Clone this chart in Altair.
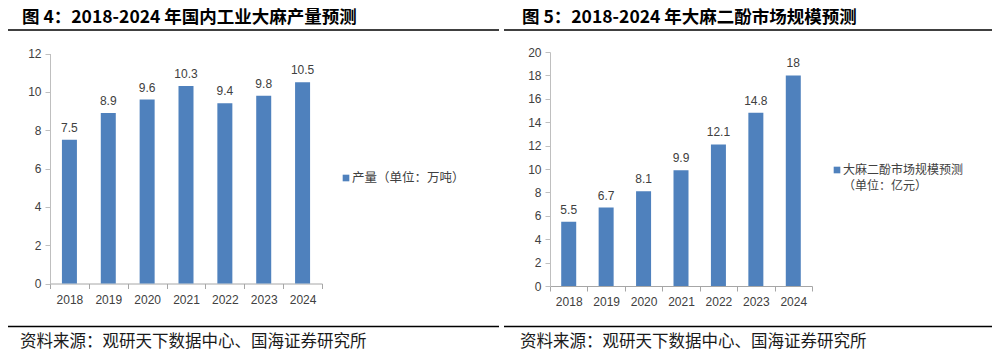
import altair as alt
import pandas as pd

# ---------------- data ----------------
years = ["2018", "2019", "2020", "2021", "2022", "2023", "2024"]
hemp_output = [7.5, 8.9, 9.6, 10.3, 9.4, 9.8, 10.5]      # 万吨
cbd_market = [5.5, 6.7, 8.1, 9.9, 12.1, 14.8, 18]        # 亿元
left_ticks = [0, 2, 4, 6, 8, 10, 12]
right_ticks = [0, 2, 4, 6, 8, 10, 12, 14, 16, 18, 20]

title_left = "图 4：2018-2024 年国内工业大麻产量预测"
title_right = "图 5：2018-2024 年大麻二酚市场规模预测"
legend_left = "产量（单位：万吨）"
legend_right_1 = "大麻二酚市场规模预测"
legend_right_2 = "（单位：亿元）"
source_text = "资料来源：观研天下数据中心、国海证券研究所"

BLUE = "#4F81BD"
W, H = 984, 346
LABEL_FONT = "Liberation Sans"
CJK = "Noto Sans CJK SC"

df_left = pd.DataFrame({"year": years, "value": hemp_output})
df_right = pd.DataFrame({"year": years, "value": cbd_market})


def panel(df, xrange, yrange, ydomain, yvalues, yaxis_x, xaxis_y, xlabelpad):
    base = alt.Chart(df).encode(
        x=alt.X(
            "year:N",
            sort=years,
            scale=alt.Scale(range=xrange, paddingInner=0, paddingOuter=0),
            axis=alt.Axis(
                orient="bottom", offset=-(H - xaxis_y), title=None, labelAngle=0,
                tickBand="extent", tickSize=5, labelPadding=xlabelpad,
                domainColor="#A6A6A6", tickColor="#A6A6A6",
                labelColor="#404040", labelFontSize=12, labelFont=LABEL_FONT,
                grid=False,
            ),
        ),
        y=alt.Y(
            "value:Q",
            scale=alt.Scale(domain=ydomain, range=yrange, nice=False, zero=True),
            axis=alt.Axis(
                orient="left", offset=-yaxis_x, title=None, values=yvalues,
                tickSize=5, labelPadding=4, grid=False,
                domainColor="#BFBFBF", tickColor="#BFBFBF",
                labelColor="#404040", labelFontSize=12, labelFont=LABEL_FONT,
            ),
        ),
    )
    bars = base.mark_bar(size=15, color=BLUE)
    labels = base.mark_text(
        baseline="alphabetic", dy=-8, fontSize=12, font=LABEL_FONT, color="#404040"
    ).encode(text="value:Q")
    return alt.layer(bars, labels)


left = panel(df_left, [42, 314], [275.5, 45.5], [0, 12], left_ticks, 42, 275.5, 6)
right = panel(df_right, [542, 804], [278, 44], [0, 20], right_ticks, 542, 278, 5)

one = pd.DataFrame({"d": [0]})


def text_at(txt, x, y, size, bold=False, font=CJK, color="#000000"):
    return alt.Chart(pd.DataFrame({"t": [txt]})).mark_text(
        align="left", baseline="middle", fontSize=size,
        fontWeight="bold" if bold else "normal", font=font, color=color,
    ).encode(text="t:N", x=alt.value(x), y=alt.value(y))


def hline(x1, x2, y, w=1.5):
    return alt.Chart(one).mark_rule(color="#000000", strokeWidth=w).encode(
        x=alt.value(x1), x2=alt.value(x2), y=alt.value(y)
    )


def square_at(x, y):
    return alt.Chart(one).mark_square(size=44, color=BLUE, opacity=1).encode(
        x=alt.value(x), y=alt.value(y)
    )


decor = [
    text_at(title_left, 14, 10, 17.5, bold=True),
    text_at(title_right, 514, 10, 17.5, bold=True),
    hline(0, 491, 22),
    hline(496, 984, 22),
    hline(0, 491, 318.5),
    hline(496, 984, 318.5),
    text_at(source_text, 12, 334, 16.5, color="#1a1a1a"),
    text_at(source_text, 512, 334, 16.5, color="#1a1a1a"),
    square_at(338, 170),
    text_at(legend_left, 344, 170, 12.5, color="#404040"),
    square_at(829, 162),
    text_at(legend_right_1, 835, 161.5, 12, color="#404040"),
    text_at(legend_right_2, 835, 177.5, 12, color="#404040"),
]

chart = (
    alt.layer(left, right, *decor)
    .resolve_scale(x="independent", y="independent")
    .resolve_axis(x="independent", y="independent")
    .properties(
        width=W, height=H, padding=0,
        autosize=alt.AutoSizeParams(type="none"),
        background="white",
    )
    .configure_view(stroke=None)
)

chart.save("out.html", embed_options={"renderer": "svg", "actions": False})
